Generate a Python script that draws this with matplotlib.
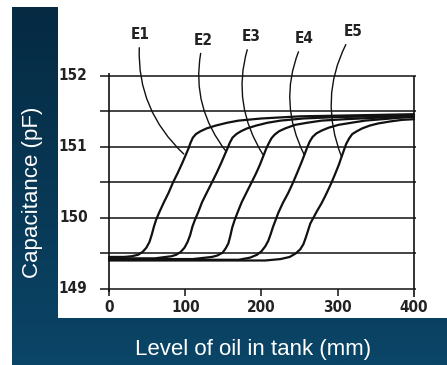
import numpy as np
import matplotlib
matplotlib.use("Agg")
import matplotlib.pyplot as plt

# --- data (mm, pF) ---
e1_x = [0, 20, 30, 38, 44, 49, 53, 56, 59, 62, 66, 72, 78, 84, 90, 96, 100, 104, 107, 110, 114,
        120, 128, 140, 155, 170, 200, 250, 300, 350, 400]
e1_y = [149.45, 149.45, 149.46, 149.48, 149.52, 149.58, 149.66, 149.76, 149.88, 149.98, 150.08,
        150.22, 150.35, 150.5, 150.63, 150.77, 150.87, 150.97, 151.06, 151.13, 151.18, 151.22,
        151.26, 151.30, 151.34, 151.37, 151.40, 151.43, 151.44, 151.45, 151.46]
e2_x = [0, 60, 82, 88, 94, 99, 103, 106.5, 109.5, 113, 117, 122, 128, 135, 141, 147, 151, 155,
        158.5, 162, 167, 173, 181, 193, 208, 225, 255, 300, 350, 400]
e2_y = [149.43, 149.43, 149.46, 149.48, 149.52, 149.58, 149.66, 149.76, 149.88, 149.98, 150.08,
        150.22, 150.35, 150.5, 150.63, 150.77, 150.87, 150.97, 151.06, 151.13, 151.18, 151.22,
        151.26, 151.30, 151.34, 151.37, 151.40, 151.42, 151.43, 151.44]
e3_x = [0, 110, 135, 142, 149, 153, 156.5, 159, 161.5, 164.5, 168, 174, 180, 187, 193, 198, 202,
        206, 209.5, 213, 217, 223, 231, 244, 260, 279, 310, 350, 400]
e3_y = [149.42, 149.42, 149.45, 149.47, 149.51, 149.57, 149.64, 149.74, 149.86, 149.96, 150.06,
        150.22, 150.35, 150.5, 150.63, 150.75, 150.86, 150.97, 151.05, 151.12, 151.17, 151.22,
        151.26, 151.31, 151.34, 151.37, 151.39, 151.41, 151.42]
e4_x = [0, 170, 185, 194, 200, 205, 209, 212, 215, 218.5, 222, 228, 235, 241.5, 247, 252, 256,
        259.5, 263, 267, 272, 279, 288, 301, 318, 336, 370, 400]
e4_y = [149.41, 149.41, 149.44, 149.48, 149.53, 149.6, 149.68, 149.77, 149.87, 149.97, 150.07,
        150.21, 150.35, 150.5, 150.64, 150.77, 150.88, 150.98, 151.07, 151.14, 151.19, 151.23,
        151.27, 151.31, 151.34, 151.37, 151.40, 151.43]
e5_x = [0, 205, 225, 237, 245, 251, 255, 258, 261, 264, 268, 273, 279, 285.5, 292, 297, 301.5,
        305, 308, 311, 315, 319, 325, 332, 342, 353, 370, 384, 400]
e5_y = [149.40, 149.40, 149.42, 149.45, 149.5, 149.56, 149.63, 149.72, 149.82, 149.92, 150.0,
        150.1, 150.21, 150.35, 150.5, 150.63, 150.75, 150.86, 150.95, 151.04, 151.12, 151.18,
        151.22, 151.26, 151.30, 151.33, 151.36, 151.38, 151.39]

series_names = ["E1", "E2", "E3", "E4", "E5"]
label_pos_x = [41, 124, 187, 256, 320]
label_pos_y = [152.58, 152.5, 152.55, 152.52, 152.62]
leader_end_x = [98, 154, 202, 256, 305]
leader_end_y = [150.9, 150.93, 150.89, 150.89, 150.86]

grid_levels = [149, 149.5, 150, 150.5, 151, 151.5, 152]
y_ticks = [149, 150, 151, 152]
x_ticks = [0, 100, 200, 300, 400]

W, H = 447, 365
fig = plt.figure(figsize=(W / 100, H / 100), dpi=100)
fig.set_facecolor("white")

# background: navy gradient frame
bg = fig.add_axes([0, 0, 1, 1])
bg.set_xlim(0, W)
bg.set_ylim(H, 0)
bg.axis("off")
grad = np.linspace(0, 1, 256).reshape(-1, 1)
cmap = matplotlib.colors.LinearSegmentedColormap.from_list("navy", ["#052a42", "#0b4567"])
bg.imshow(grad, cmap=cmap, extent=[12, W, H, 7], aspect="auto", zorder=0)

# white panel holding the scanned chart
ax = fig.add_axes([58 / W, (H - 318) / H, (W - 58) / W, (318 - 7) / H])
ax.set_facecolor("white")
ax.set_xlim(-66.9, 443.3)
ax.set_ylim(148.59, 152.97)
for s in ax.spines.values():
    s.set_visible(False)
ax.set_xticks([])
ax.set_yticks([])

ink = "#111111"
nfont = dict(family="DejaVu Sans", fontstretch="condensed", fontweight="bold",
             fontsize=11, color="#222222")

ax.hlines(grid_levels, -12, 402, color=ink, lw=1.1)
ax.vlines(0, 148.95, 152.04, color=ink, lw=1.2)
ax.vlines(400, 148.88, 152.0, color=ink, lw=1.2)
ax.vlines(x_ticks[:-1], 148.9, 149, color=ink, lw=1.1)

for xs, ys in [(e1_x, e1_y), (e2_x, e2_y), (e3_x, e3_y), (e4_x, e4_y), (e5_x, e5_y)]:
    ax.plot(xs, ys, color=ink, lw=1.6, solid_joinstyle="round", solid_capstyle="round")

for t in y_ticks:
    ax.text(-28, t, str(t), ha="right", va="center", **nfont)
for t in x_ticks:
    ax.text(t, 148.85, str(t), ha="center", va="top", **nfont)

for name, tx, ty, ex, ey in zip(series_names, label_pos_x, label_pos_y, leader_end_x, leader_end_y):
    ax.annotate(name, xy=(ex, ey), xytext=(tx, ty), ha="center", va="center", **nfont,
                arrowprops=dict(arrowstyle="-", color=ink, lw=1.0,
                                connectionstyle="arc3,rad=0.25", shrinkA=2, shrinkB=0))

fig.text(33 / W, 1 - 192 / H, "Capacitance (pF)", rotation=90, ha="center", va="center",
         color="white", fontsize=16, family="Liberation Sans")
fig.text(253 / W, 1 - 350 / H, "Level of oil in tank (mm)", ha="center", va="center",
         color="white", fontsize=16, family="Liberation Sans")

fig.savefig("out.png", dpi=100, facecolor=fig.get_facecolor())
